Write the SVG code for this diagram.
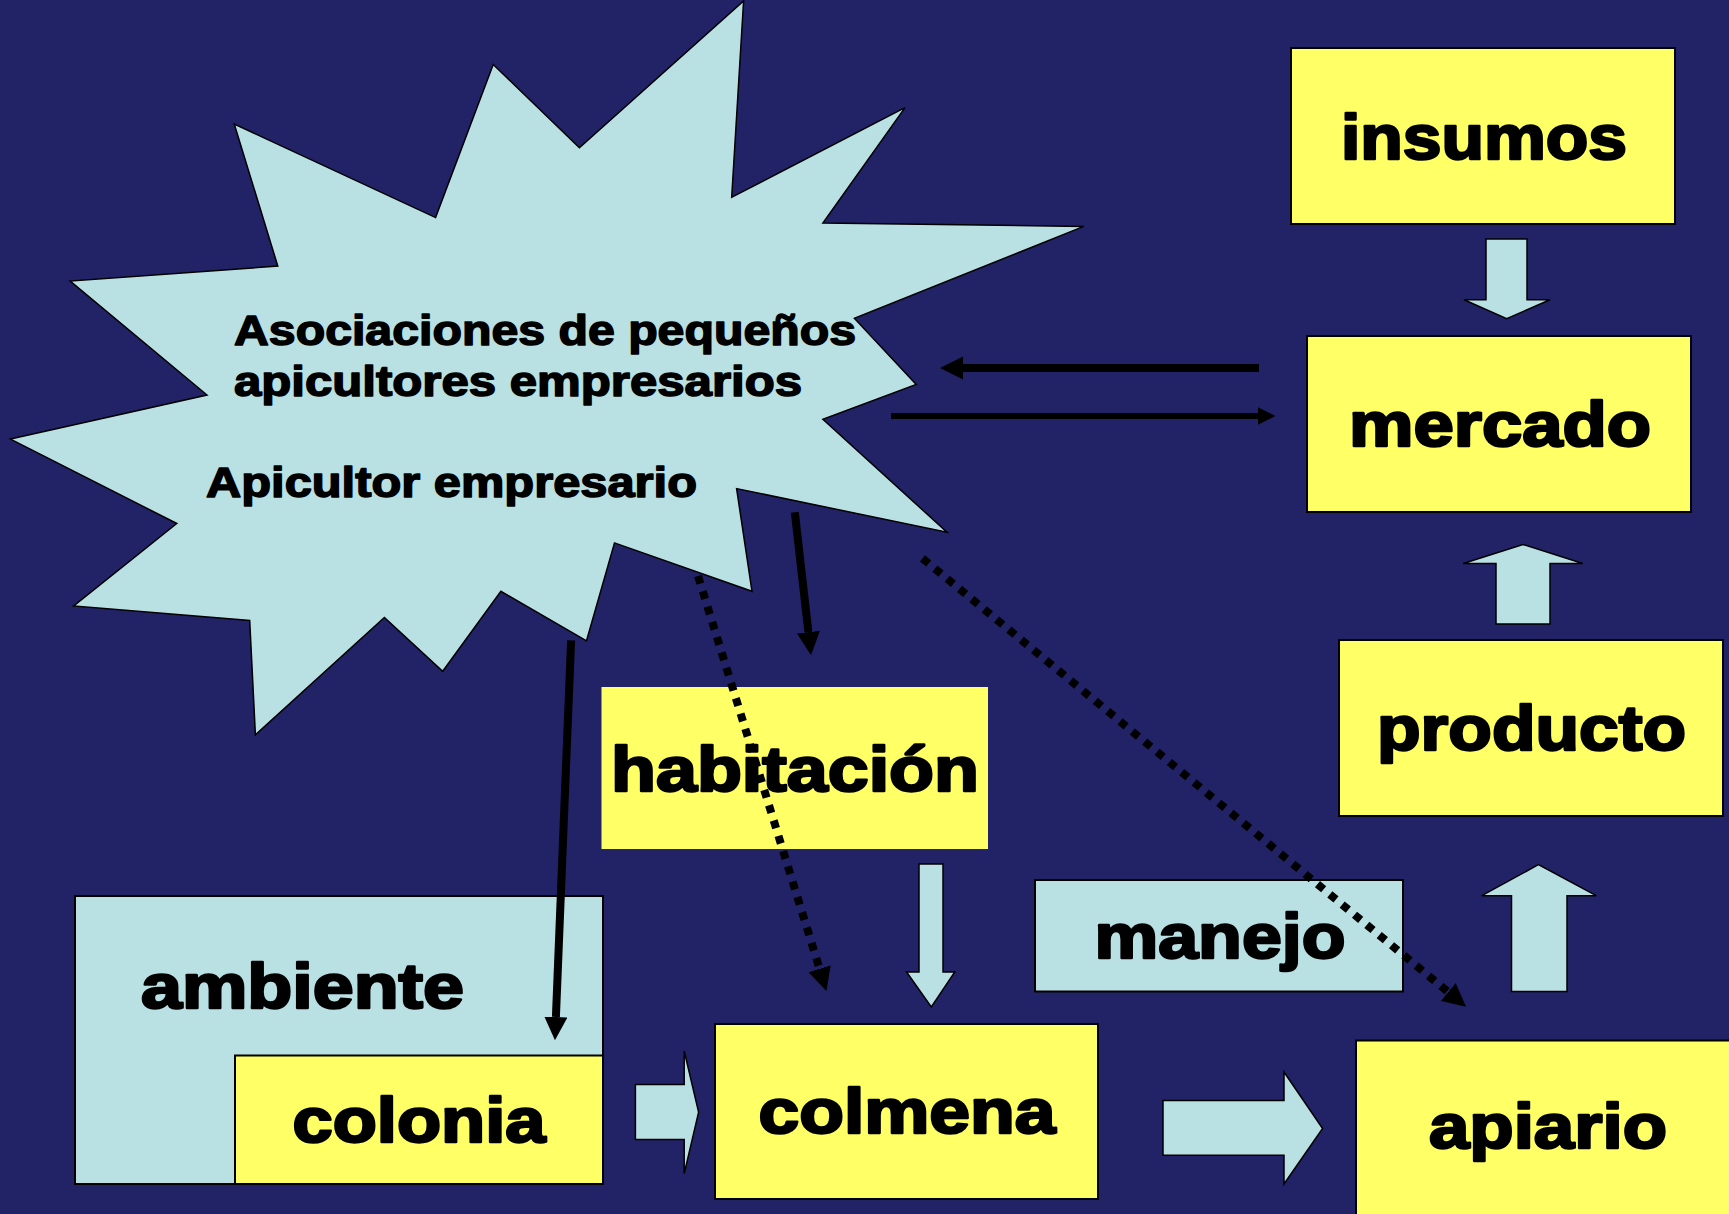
<svg xmlns="http://www.w3.org/2000/svg" width="1729" height="1214" viewBox="0 0 1729 1214">
<style>
.bg{fill:#222266}
.yel{fill:#FFFF66;stroke:#000;stroke-width:2}
.blu{fill:#B9E1E4;stroke:#000;stroke-width:2}
.lbl{font-family:"Liberation Sans",Arial,sans-serif;font-weight:bold;font-size:63px;fill:#000;stroke:#000;stroke-width:2.5;stroke-linejoin:round;text-anchor:middle}
.slbl{font-family:"Liberation Sans",Arial,sans-serif;font-weight:bold;font-size:42px;fill:#000;stroke:#000;stroke-width:1.5;stroke-linejoin:round}
.ln{fill:none;stroke:#000;marker-end:url(#ah)}
.dot{fill:none;stroke:#000;stroke-width:8;stroke-dasharray:8 8;marker-end:url(#ah)}
.blk{fill:#B9E1E4;stroke:#000;stroke-width:1.5;stroke-linejoin:miter}
</style>
<defs>
<marker id="ah" viewBox="0 0 10 10" refX="0" refY="5" markerWidth="2.9" markerHeight="2.9" markerUnits="strokeWidth" orient="auto">
<path d="M0,0 L10,5 L0,10 z" fill="#000"/>
</marker>
</defs>
<rect class="bg" x="0" y="0" width="1729" height="1214"/>

<g id="asociaciones">
<polygon fill="#B9E1E4" stroke="#000" stroke-width="1.5" points="743.6,1 731.7,197.3 905,107.6 822.9,223 1083.8,226.4 854.4,318.4 916.2,384.4 822.9,419.3 947,532.2 736.6,488.6 752,591.3 614.5,542.9 586.5,640.8 500.9,591.3 442.7,671.3 384.4,617.5 255.4,734.8 249.7,620.4 73.7,605.9 176.8,523.5 10.5,439.1 207,395 70.2,281.1 277.8,266.1 234.3,124.1 435.6,217.6 493.2,64.5 579.4,147.8"/>
<text class="slbl" x="234" y="345" textLength="622" lengthAdjust="spacingAndGlyphs">Asociaciones de pequeños</text>
<text class="slbl" x="234" y="396" textLength="568" lengthAdjust="spacingAndGlyphs">apicultores empresarios</text>
<text class="slbl" x="206" y="497" textLength="491" lengthAdjust="spacingAndGlyphs">Apicultor empresario</text>
</g>

<g id="insumos">
<rect class="yel" x="1291" y="48" width="384" height="176"/>
<text class="lbl" x="1484" y="159" textLength="286" lengthAdjust="spacingAndGlyphs">insumos</text>
</g>

<g id="mercado">
<rect class="yel" x="1307" y="336" width="384" height="176"/>
<text class="lbl" x="1500" y="446" textLength="302" lengthAdjust="spacingAndGlyphs">mercado</text>
</g>

<g id="producto">
<rect class="yel" x="1339" y="640" width="384" height="176"/>
<text class="lbl" x="1531.5" y="750" textLength="309" lengthAdjust="spacingAndGlyphs">producto</text>
</g>

<g id="habitacion">
<rect x="601.5" y="687" width="386.5" height="162" fill="#FFFF66"/>
<text class="lbl" x="795" y="791" textLength="368" lengthAdjust="spacingAndGlyphs">habitación</text>
</g>

<g id="manejo">
<rect class="blu" x="1035" y="880" width="368" height="111.5"/>
<text class="lbl" x="1220" y="958" textLength="251" lengthAdjust="spacingAndGlyphs">manejo</text>
</g>

<g id="ambiente">
<rect class="blu" x="75" y="896" width="528" height="288"/>
<text class="lbl" x="302.5" y="1008" textLength="323" lengthAdjust="spacingAndGlyphs">ambiente</text>
</g>

<g id="colonia">
<rect class="yel" x="235" y="1055.5" width="368" height="128.5"/>
<text class="lbl" x="419" y="1142" textLength="253" lengthAdjust="spacingAndGlyphs">colonia</text>
</g>

<g id="colmena">
<rect class="yel" x="715" y="1024" width="383" height="175"/>
<text class="lbl" x="907" y="1133" textLength="297" lengthAdjust="spacingAndGlyphs">colmena</text>
</g>

<g id="apiario">
<rect class="yel" x="1356" y="1040.5" width="400" height="200"/>
<text class="lbl" x="1548" y="1148" textLength="238" lengthAdjust="spacingAndGlyphs">apiario</text>
</g>

<g id="connectors">
<polygon class="blk" points="1486,239 1527,239 1527,299.7 1550,299.7 1506.7,318.7 1464,299.7 1486,299.7"/>
<polygon class="blk" points="1496,624 1496,563.5 1463.2,563.5 1523,544.5 1582.8,563.5 1550,563.5 1550,624"/>
<polygon class="blk" points="1511.5,991.6 1511.5,895.7 1481.8,895.7 1538.4,864.7 1596.2,895.7 1567,895.7 1567,991.6"/>
<polygon class="blk" points="919,864 943,864 943,972 954.8,972 931.3,1007 906.6,972 919,972"/>
<polygon class="blk" points="1163,1100.5 1284,1100.5 1284,1072 1322.6,1128.5 1284,1184 1284,1155.3 1163,1155.3"/>
<polygon class="blk" points="635.4,1084.4 684.2,1084.4 684.2,1051 698.6,1112.2 684.2,1173.7 684.2,1139.6 635.4,1139.6"/>
<path class="ln" stroke-width="8" d="M1259,368 L963,368"/>
<path class="ln" stroke-width="6" d="M891,416 L1258,416"/>
<path class="ln" stroke-width="8" d="M794.8,512.3 L808.4,632.1"/>
<path class="ln" stroke-width="8" d="M571.1,640.3 L555.9,1017"/>
<path class="dot" d="M698,576 L819.6,968.8"/>
<path class="dot" d="M922.5,558.4 L1448.2,992"/>
</g>
</svg>
